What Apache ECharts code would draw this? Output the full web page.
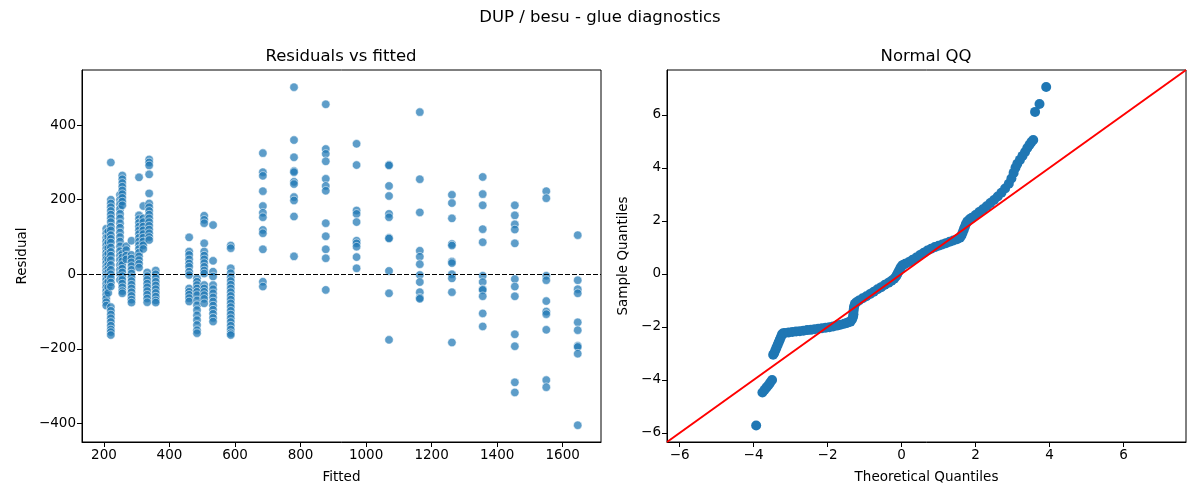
<!DOCTYPE html>
<html>
<head>
<meta charset="utf-8">
<script src="https://cdn.jsdelivr.net/npm/echarts@6/dist/echarts.min.js"></script>
<style>
  html, body { margin: 0; padding: 0; background: #fff; }
  #main { width: 1200px; height: 500px; }
</style>
</head>
<body>
<div id="main"></div>
<script>
// fitted value of each column of points (left panel)
const fittedLevels = [207, 213, 221, 249, 256, 268, 284, 307, 320, 332, 338, 358,
  460, 484, 506, 533, 587, 685, 780, 877, 971, 1070, 1164, 1262, 1356, 1454, 1550, 1646]

const residualsByLevel = [
  [122, 110, 98, 88, 78, 68, 58, 50, 40, 30, 20, 10, 2, -6, -15, -25, -35, -45, -55, -65, -75, -84],
  [115, 100, 85, 70, 55, 40, 25, 15, 5, -5, -20, -35, -50],
  [300, 200, 190, 180, 170, 160, 150, 140, 128, 118, 105, 95, 85, 72, 60, 50, 38, 25, 12, 0, -10, -22, -33,
    -88, -98, -108, -118, -128, -138, -148, -155, -163],
  [213, 200, 188, 175, 162, 150, 137, 125, 112, 100, 88, 75, 62, 50, 38, 25, 12, 0, -15],
  [265, 255, 245, 235, 225, 215, 205, 195, 185, 55, 45, 35, 25, 15, 5, -5, -15, -25, -35, -45, -51],
  [75, 65, 50, 40],
  [90, 52, 42, 32, 22, 12, 2, -8, -18, -28, -38, -48, -58, -68, -76],
  [260, 158, 148, 138, 128, 118, 108, 98, 88, 78, 68, 58, 48, 38, 28, 18],
  [183, 150, 140, 128, 118, 108, 98, 88, 78, 68],
  [5, -5, -15, -25, -35, -45, -55, -65, -75],
  [308, 300, 292, 268, 217, 190, 180, 170, 160, 150, 140, 130, 120, 110, 100, 92],
  [10, 0, -10, -20, -30, -40, -50, -60, -70, -76],
  [99, 61, 52, 40, 29, 20, 7, -2, -38, -47, -55, -64, -73],
  [-11, -20, -29, -38, -47, -56, -70, -83, -96, -110, -123, -136, -150, -158],
  [157, 146, 137, 83, 61, 50, 40, 30, 20, 10, 2, -29, -38, -47, -56, -66, -78],
  [132, 36, 7, -6, -29, -40, -51, -62, -73, -84, -95, -106, -117, -127],
  [77, 70, 16, 3, -8, -18, -28, -38, -48, -58, -68, -78, -88, -98, -108, -118, -128, -138, -148, -158, -163],
  [325, 274, 264, 223, 183, 165, 153, 119, 110, 67, -20, -33],
  [502, 360, 314, 277, 274, 248, 242, 207, 198, 155, 48],
  [456, 336, 323, 303, 256, 237, 224, 137, 102, 67, 43, -42],
  [350, 293, 171, 162, 140, 90, 83, 74, 46, 16],
  [294, 292, 237, 210, 162, 153, 98, 96, 9, -51, -176],
  [435, 255, 166, 63, 47, 27, -2, -21, -48, -63, -66],
  [213, 191, 150, 81, 77, 34, 30, 0, -11, -48, -183],
  [261, 215, 185, 121, 86, -4, -21, -40, -42, -59, -105, -140],
  [185, 158, 134, 120, 83, -13, -33, -59, -161, -193, -290, -317],
  [223, 204, -4, -16, -72, -100, -107, -149, -284, -303],
  [105, -16, -40, -51, -129, -150, -192, -195, -213, -405]
]

// normal QQ points read along the band (right panel)
const theoreticalQ = [
  -3.93,
  -3.76, -3.70, -3.65, -3.60, -3.55, -3.50,
  -3.47, -3.44, -3.41, -3.38, -3.35, -3.32, -3.29, -3.26, -3.23, -3.20,
  -3.15, -3.05, -2.95, -2.85, -2.75, -2.65, -2.55, -2.45, -2.35, -2.25, -2.15, -2.05, -1.95, -1.85, -1.75, -1.65, -1.55, -1.48, -1.43,
  -1.38, -1.34, -1.31, -1.30, -1.30, -1.29, -1.28, -1.26, -1.22,
  -1.15, -1.05, -0.95, -0.85, -0.75, -0.65, -0.55, -0.45, -0.35, -0.27, -0.20,
  -0.15, -0.12, -0.09, -0.06, -0.03, 0.00, 0.04,
  0.10, 0.20, 0.30, 0.40, 0.50, 0.60, 0.70, 0.80, 0.90, 1.00, 1.10, 1.20, 1.30, 1.40, 1.50, 1.58,
  1.62, 1.65, 1.68, 1.71, 1.74, 1.78, 1.84,
  1.90, 2.00, 2.10, 2.20, 2.30, 2.40, 2.50, 2.60, 2.70, 2.80, 2.90, 2.97, 3.03, 3.08, 3.13, 3.20, 3.27, 3.34, 3.40, 3.46, 3.51, 3.56,
  3.61, 3.73, 3.91
]
const sampleQ = [
  -5.72,
  -4.47, -4.37, -4.28, -4.20, -4.10, -4.00,
  -3.05, -2.98, -2.88, -2.78, -2.68, -2.58, -2.48, -2.38, -2.28, -2.24,
  -2.23, -2.21, -2.19, -2.17, -2.16, -2.14, -2.12, -2.11, -2.09, -2.07, -2.05, -2.03, -2.01, -1.98, -1.95, -1.92, -1.88, -1.85, -1.82,
  -1.80, -1.72, -1.62, -1.52, -1.42, -1.32, -1.22, -1.13, -1.07,
  -1.00, -0.92, -0.84, -0.76, -0.67, -0.58, -0.50, -0.41, -0.33, -0.26, -0.18,
  -0.10, -0.02, 0.06, 0.14, 0.22, 0.29, 0.34,
  0.38, 0.45, 0.53, 0.62, 0.71, 0.80, 0.88, 0.95, 1.01, 1.06, 1.11, 1.16, 1.21, 1.26, 1.31, 1.36,
  1.45, 1.55, 1.66, 1.77, 1.88, 1.98, 2.06,
  2.12, 2.22, 2.33, 2.44, 2.55, 2.67, 2.79, 2.92, 3.06, 3.22, 3.40, 3.60, 3.81, 4.00, 4.15, 4.30, 4.45, 4.60, 4.75, 4.87, 4.97, 5.05,
  6.11, 6.41, 7.05
]

const xTicksLeft = [200, 400, 600, 800, 1000, 1200, 1400, 1600]
const yTicksLeft = [-400, -200, 0, 200, 400]
const qqTicks = [-6, -4, -2, 0, 2, 4, 6]
const qqLimits = [-6.34, 7.69]

let residData = []
fittedLevels.forEach((f, i) => {
  residualsByLevel[i].forEach(r => residData.push([f, r]))
})
let qqData = theoreticalQ.map((t, i) => [t, sampleQ[i]])

const font = 'DejaVu Sans'
function axis(min, max, ticks, name, gap, extra) {
  return Object.assign({
    type: 'value',
    min: min,
    max: max,
    name: name,
    nameLocation: 'middle',
    nameGap: gap,
    nameTextStyle: { color: '#000', fontSize: 13.5, fontFamily: font },
    splitLine: { show: false },
    axisLine: { show: true, onZero: false, lineStyle: { color: '#000', width: 1 } },
    axisTick: { show: true, length: 5, inside: false, customValues: ticks, lineStyle: { color: '#000' } },
    axisLabel: { customValues: ticks, color: '#000', fontSize: 13.5, fontFamily: font, margin: 6,
      formatter: v => String(v).replace('-', '\u2212') }
  }, extra || {})
}

var myChart = echarts.init(document.getElementById('main'))
var option = {
  animation: false,
  textStyle: { fontFamily: font },
  graphic: [
    { type: 'text', x: 600, y: 9, style: { text: 'DUP / besu - glue diagnostics', font: '16.5px DejaVu Sans', fill: '#000', align: 'center' } },
    { type: 'text', x: 341, y: 48, style: { text: 'Residuals vs fitted', font: '16.5px DejaVu Sans', fill: '#000', align: 'center' } },
    { type: 'text', x: 926, y: 48, style: { text: 'Normal QQ', font: '16.5px DejaVu Sans', fill: '#000', align: 'center' } }
  ],
  grid: [
    { left: 82, right: 599, top: 70, bottom: 58, show: true, borderColor: '#000', borderWidth: 1 },
    { left: 667, right: 14, top: 70, bottom: 58, show: true, borderColor: '#000', borderWidth: 1 }
  ],
  xAxis: [
    axis(133, 1717, xTicksLeft, 'Fitted', 28, { gridIndex: 0 }),
    axis(qqLimits[0], qqLimits[1], qqTicks, 'Theoretical Quantiles', 28, { gridIndex: 1 })
  ],
  yAxis: [
    axis(-450, 548, yTicksLeft, 'Residual', 53, { gridIndex: 0 }),
    axis(qqLimits[0], qqLimits[1], qqTicks, 'Sample Quantiles', 37, { gridIndex: 1 })
  ],
  series: [
    {
      type: 'scatter',
      xAxisIndex: 0,
      yAxisIndex: 0,
      data: residData,
      symbolSize: 8.5,
      itemStyle: { color: '#1f77b4', opacity: 0.72, borderColor: '#fff', borderWidth: 0.75 },
      markLine: {
        silent: true,
        symbol: 'none',
        label: { show: false },
        lineStyle: { color: '#000', type: [5, 2], width: 1.2 },
        data: [{ yAxis: 0 }]
      }
    },
    {
      type: 'line',
      xAxisIndex: 1,
      yAxisIndex: 1,
      data: [[qqLimits[0], qqLimits[0]], [qqLimits[1], qqLimits[1]]],
      showSymbol: false,
      lineStyle: { color: '#ff0000', width: 2 },
      z: 3
    },
    {
      type: 'scatter',
      xAxisIndex: 1,
      yAxisIndex: 1,
      data: qqData,
      symbolSize: 10,
      itemStyle: { color: '#1f77b4', opacity: 1 },
      z: 2
    }
  ]
}
myChart.setOption(option)
</script>
</body>
</html>
